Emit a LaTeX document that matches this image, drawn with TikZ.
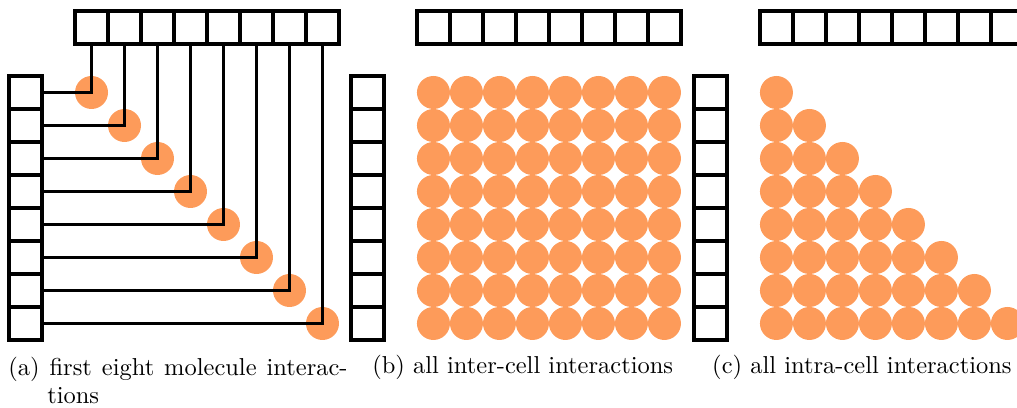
\documentclass[tikz,border=0pt]{standalone}
\usepackage{tikz}

\definecolor{dotorange}{RGB}{253,155,90}

\tikzset{
  cell/.style={draw, line width=1.5pt, minimum size=0.5cm, inner sep=0pt},
  dot/.style={circle, fill=dotorange, minimum size=0.5cm, inner sep=0pt},
  wire/.style={line width=1.5pt},
  caption/.style={inner sep=0pt, anchor=base west, font=\fontsize{10.55}{12.1}\selectfont}
}

\begin{document}
\begin{tikzpicture}[x=0.5cm, y=0.5cm]
    \clip (0,0) rectangle (30.82,-12.36);
    % (a) one interaction per molecule pair on the diagonal
    \foreach \i in {0,...,7} {
      \node[cell] (ta\i) at (2.773+\i, -0.833) {};
      \node[cell] (la\i) at (0.773, -2.803-\i) {};
      \node[dot] (da\i) at (2.773+\i, -2.803-\i) {};
    }
    \foreach \i in {0,...,7}
      \draw[wire] (la\i.east) -| (ta\i.south);
    \node[caption, anchor=north west, text width=5.14cm, align=justify] (capa) at (0.24,-10.8)
      {\hangindent=0.59cm\hangafter=1 (a) first eight molecule interac-\linebreak tions\par};

    % (b) full block between two cells
    \foreach \i in {0,...,7} {
      \node[cell] (tb\i) at (13.136+\i, -0.833) {};
      \node[cell] (lb\i) at (11.136, -2.803-\i) {};
    }
    \foreach \i in {0,...,7} \foreach \j in {0,...,7}
      \node[dot] (db-\i-\j) at (13.136+\j, -2.803-\i) {};
    \node[caption] (capb) at (11.27,-11.33) {(b) all inter-cell interactions};

    % (c) lower triangle inside one cell
    \foreach \i in {0,...,7} {
      \node[cell] (tc\i) at (23.53+\i, -0.833) {};
      \node[cell] (lc\i) at (21.53, -2.803-\i) {};
    }
    \foreach \i in {0,...,7} \foreach \j in {0,...,7} {
      \ifnum\j>\i\else
        \node[dot] (dc-\i-\j) at (23.53+\j, -2.803-\i) {};
      \fi
    }
    \node[caption] (capc) at (21.57,-11.33) {(c) all intra-cell interactions};
\end{tikzpicture}
\end{document}
